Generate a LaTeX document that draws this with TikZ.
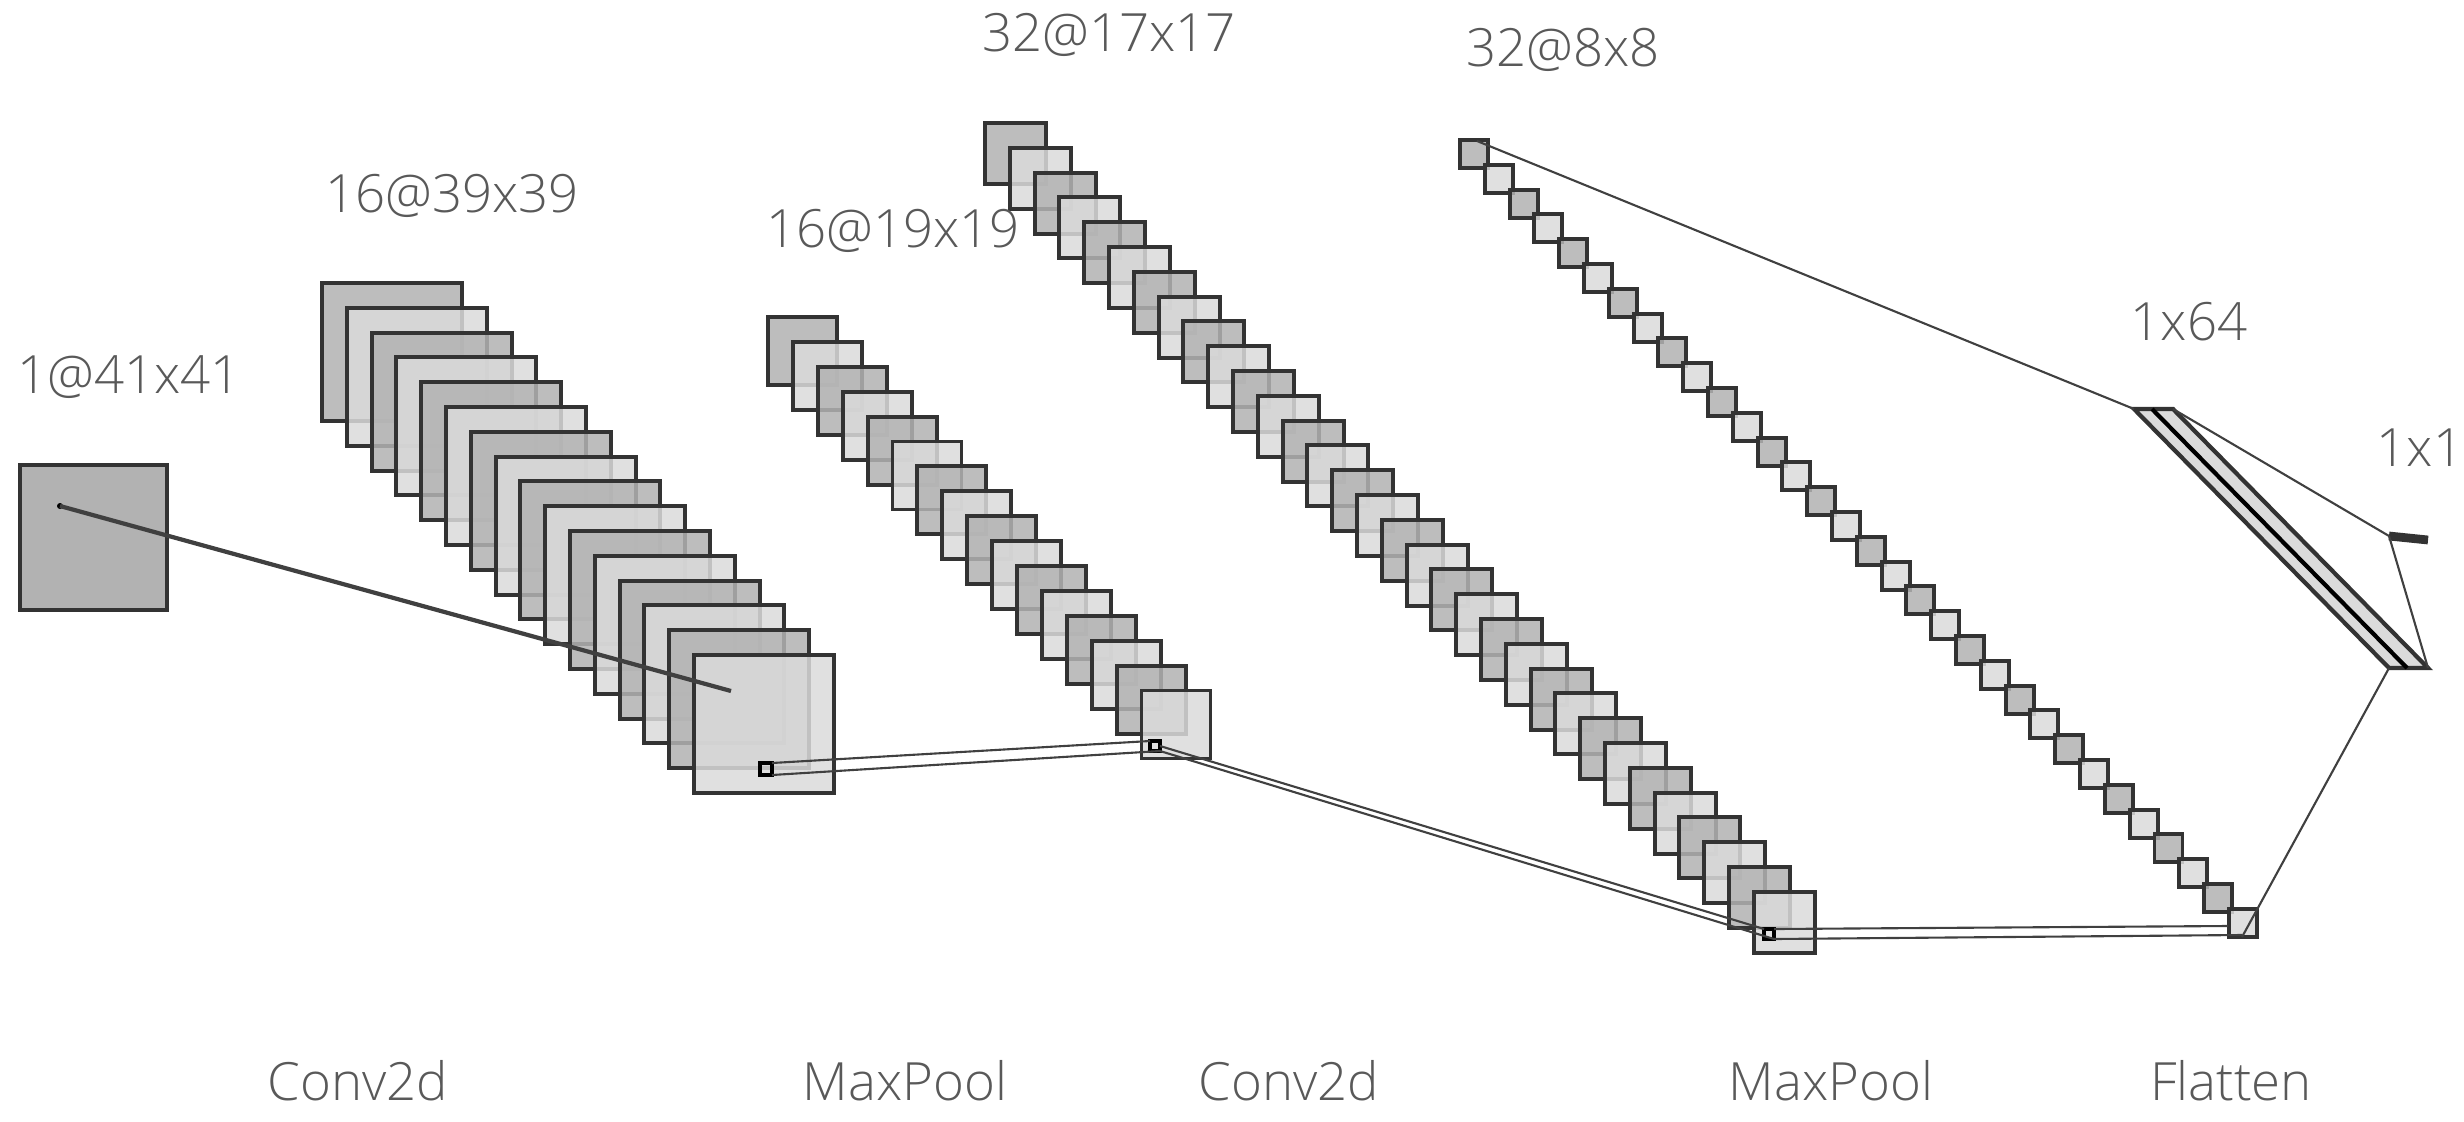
\documentclass[tikz,border=0pt]{standalone}
\usepackage{fontspec}
\setmainfont{Open Sans Light}[BoldFont=Open Sans]
\begin{document}
\begin{tikzpicture}[x=0.01cm,y=-0.01cm,
  lbl/.style={text=black!65,font=\fontsize{15}{18}\selectfont,inner sep=0},
  dk/.style={draw=black!80,line width=1.1pt,fill=black!30,fill opacity=0.85},
  lt/.style={draw=black!80,line width=1.1pt,fill=black!14,fill opacity=0.85},
  conn/.style={draw=black!75,line width=0.6pt}]
\useasboundingbox (0,0) rectangle (2464,1121);
% input
\draw[dk,fill opacity=1] (20,465) rectangle (167,610);
\coordinate (in) at (60,506);
\fill (in) circle (3);
% layer macro
\newcommand\layerdraw[6]{% x0,y0,w,h,n,step
  \foreach \i in {1,...,#5}{%
    \pgfmathsetmacro\xx{#1+(\i-1)*#6}\pgfmathsetmacro\yy{#2+(\i-1)*#6}%
    \pgfmathtruncatemacro\m{mod(\i,2)}%
    \ifnum\m=1 \draw[dk] (\xx,\yy) rectangle ++(#3,#4);\else \draw[lt] (\xx,\yy) rectangle ++(#3,#4);\fi}}
\layerdraw{322}{283}{140}{138}{16}{24.8}
\layerdraw{768}{317}{69}{68}{16}{24.9}
\layerdraw{985}{123}{61}{61}{32}{24.8}
\layerdraw{1460}{140}{28}{28}{32}{24.8}
% connections
\coordinate (c1) at (731,691);
\draw[conn,line width=1.2pt] (in) -- (c1);
\draw[line width=1pt] (760,763) rectangle (772,775);
\draw[line width=1pt] (1150,741) rectangle (1160,751);
\draw[line width=1pt] (1764,929) rectangle (1774,939);
\draw[conn] (772,763) -- (1150,741);
\draw[conn] (772,775) -- (1160,751);
\draw[conn] (1160,746) -- (1764,929);
\draw[conn] (1160,751) -- (1774,939);
\draw[conn] (1774,929) -- (2228,926);
\draw[conn] (1774,939) -- (2242,935);
% flatten
\coordinate (ft1) at (2134,409); \coordinate (ft2) at (2173,409);
\coordinate (fb1) at (2389,668); \coordinate (fb2) at (2428,668);
\draw[lt,fill opacity=1,line width=1.2pt] (ft1) -- (ft2) -- (fb2) -- (fb1) -- cycle;
\draw[line width=1.2pt] (2152,409) -- (2407,668);
\coordinate (o1) at (2389,536); \coordinate (o2) at (2428,540);
\draw[line width=2.5pt,black!80] (o1) -- (o2);
\draw[conn] (1477,141) -- (ft1);
\draw[conn] (2242,937) -- (fb1);
\draw[conn] (ft2) -- (o1);
\draw[conn] (o1) -- (fb2);
% labels
\node[lbl] at (129,377) {1@41x41};
\node[lbl] at (452,196) {16@39x39};
\node[lbl] at (893,231) {16@19x19};
\node[lbl] at (1109,35) {32@17x17};
\node[lbl] at (1563,50) {32@8x8};
\node[lbl] at (2189,322) {1x64};
\node[lbl,anchor=west] at (2376,448) {1x1};
\node[lbl] at (358,1081) {Conv2d};
\node[lbl] at (905,1081) {MaxPool};
\node[lbl] at (1289,1081) {Conv2d};
\node[lbl] at (1831,1081) {MaxPool};
\node[lbl] at (2231,1081) {Flatten};
\end{tikzpicture}
\end{document}
